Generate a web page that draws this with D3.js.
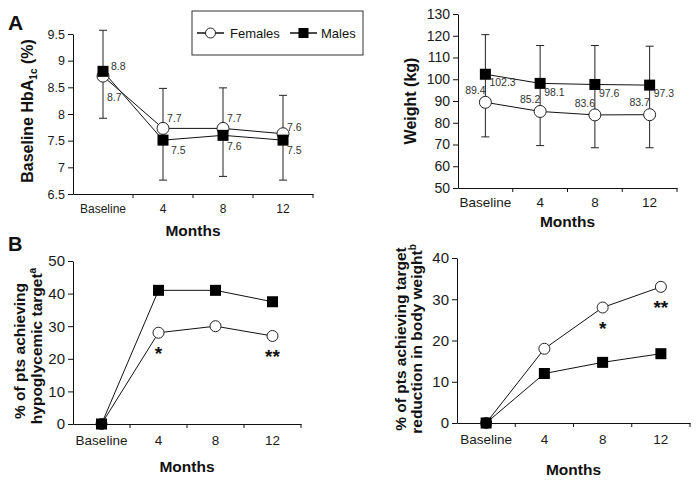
<!DOCTYPE html>
<html><head><meta charset="utf-8">
<script src="https://cdn.jsdelivr.net/npm/d3@7"></script>
<style>
body{margin:0;background:#fff;}
svg{display:block;font-family:"Liberation Sans",Arial,sans-serif;}
</style></head>
<body><svg id="c" width="699" height="483"></svg>
<script>
// ---- data ----
const months = ["Baseline", "4", "8", "12"];
const seriesNames = ["Females", "Males"];

const hba1cFemales = [8.71, 7.73, 7.73, 7.63];
const hba1cMales = [8.8, 7.51, 7.6, 7.51];
const hba1cFemaleLabels = ["8.7", "7.7", "7.7", "7.6"];
const hba1cMaleLabels = ["8.8", "7.5", "7.6", "7.5"];
const hba1cErrLow = [7.92, 6.76, 6.83, 6.76];
const hba1cErrHigh = [9.57, 8.48, 8.49, 8.35];
const hba1cTicks = [6.5, 7, 7.5, 8, 8.5, 9, 9.5];

const weightFemales = [89.4, 85.2, 83.6, 83.7];
const weightMales = [102.3, 98.1, 97.6, 97.3];
const weightErrLow = [73.5, 69.5, 68.5, 68.5];
const weightErrHigh = [120.5, 115.5, 115.5, 115.2];
const weightTicks = [50, 60, 70, 80, 90, 100, 110, 120, 130];

const hypoFemales = [0, 28, 30, 27];
const hypoMales = [0, 41, 41, 37.5];
const hypoStars = ["", "*", "", "**"];
const hypoTicks = [0, 10, 20, 30, 40, 50];

const wtRedFemales = [0, 18, 28, 33];
const wtRedMales = [0, 12, 14.7, 16.8];
const wtRedStars = ["", "", "*", "**"];
const wtRedTicks = [0, 10, 20, 30, 40];

// ---- drawing ----
const svg = d3.select("#c");
const FONT = '"Liberation Sans",Arial,sans-serif';

function panel(o) {
  const g = svg.append("g");
  const x = d3.scaleBand().domain(months).range([o.x0, o.x1]).padding(0);
  const y = d3.scaleLinear().domain(o.domain).range([o.y0, o.y1]);
  const cx = d => x(d) + x.bandwidth() / 2;

  // y axis
  const ya = g.append("g").attr("transform", `translate(${o.x0},0)`)
    .call(d3.axisLeft(y).tickValues(o.ticks).tickSize(5).tickSizeOuter(0).tickPadding(3)
      .tickFormat(d => String(d)));
  ya.selectAll("text").attr("font-size", o.ytFont).attr("fill", "#1a1a1a").attr("font-family", FONT);
  ya.selectAll("line,path").attr("stroke", "#111");

  // x axis (labels centered, ticks at category boundaries)
  const xa = g.append("g").attr("transform", `translate(0,${o.y0})`)
    .call(d3.axisBottom(x).tickSize(0).tickSizeOuter(0).tickPadding(o.xtPad));
  xa.selectAll("text").attr("font-size", o.xtFont).attr("fill", "#1a1a1a").attr("font-family", FONT);
  xa.select("path").attr("stroke", "#111");
  g.selectAll(".bt").data(months).enter().append("line")
    .attr("x1", d => x(d) + x.bandwidth()).attr("x2", d => x(d) + x.bandwidth())
    .attr("y1", o.y0).attr("y2", o.y0 + 4).attr("stroke", "#111");

  // titles
  g.append("text").attr("x", (o.x0 + o.x1) / 2).attr("y", o.mY)
    .attr("text-anchor", "middle").attr("font-weight", "bold").attr("font-size", 15.5)
    .attr("fill", "#111").text("Months");
  o.yTitle(g);

  // error bars
  if (o.errLow) {
    months.forEach((m, i) => {
      const xx = cx(m);
      g.append("line").attr("x1", xx).attr("x2", xx).attr("y1", y(o.errLow[i])).attr("y2", y(o.errHigh[i])).attr("stroke", "#222");
      [o.errLow[i], o.errHigh[i]].forEach(v => g.append("line").attr("x1", xx - 4).attr("x2", xx + 4)
        .attr("y1", y(v)).attr("y2", y(v)).attr("stroke", "#222"));
    });
  }

  const line = d3.line().x((d, i) => cx(months[i])).y(d => y(d));
  [o.fem, o.male].forEach(s => g.append("path").datum(s).attr("d", line)
    .attr("fill", "none").attr("stroke", "#111").attr("stroke-width", 1));

  const r = o.r, sq = o.sq;
  g.selectAll(".fc").data(o.fem).enter().append("circle")
    .attr("cx", (d, i) => cx(months[i])).attr("cy", d => y(d)).attr("r", r)
    .attr("fill", "#fff").attr("stroke", "#222").attr("stroke-width", 1);
  g.selectAll(".ms").data(o.male).enter().append("rect")
    .attr("x", (d, i) => cx(months[i]) - sq / 2).attr("y", d => y(d) - sq / 2)
    .attr("width", sq).attr("height", sq).attr("fill", "#000");

  if (o.labels) o.labels(g, x, y, cx);
  if (o.stars) {
    o.stars.forEach((s, i) => {
      if (!s) return;
      g.append("text").attr("x", cx(months[i])).attr("y", y(o.fem[i]) + 27)
        .attr("text-anchor", "middle").attr("font-weight", "bold").attr("font-size", 19)
        .attr("fill", "#111").text(s);
    });
  }
}

function rotTitle(g, xx, yy, parts, size) {
  const t = g.append("text").attr("transform", `translate(${xx},${yy}) rotate(-90)`)
    .attr("text-anchor", "middle").attr("font-weight", "bold").attr("font-size", size).attr("fill", "#111");
  parts.forEach(p => {
    const ts = t.append("tspan").text(p.t);
    if (p.fs) ts.attr("font-size", p.fs);
    if (p.dy) ts.attr("dy", p.dy);
  });
}

// Panel A left: HbA1c
panel({
  x0: 73, x1: 313, y0: 194, y1: 34, domain: [6.5, 9.5], ticks: hba1cTicks,
  ytFont: 12.5, xtFont: 12, xtPad: 10, mY: 236, r: 6, sq: 11,
  fem: hba1cFemales, male: hba1cMales, errLow: hba1cErrLow, errHigh: hba1cErrHigh,
  yTitle: g => rotTitle(g, 33, 111, [{t: "Baseline HbA"}, {t: "1c", fs: 10, dy: 4}, {t: " (%)", dy: -4}], 16),
  labels: (g, x, y, cx) => {
    const fdy = [21, -10, -10, -6], mdx = [8, 8, 4, 4], mdy = [-5, 10, 11, 10];
    months.forEach((m, i) => {
      g.append("text").attr("x", cx(m) + 4).attr("y", y(hba1cFemales[i]) + fdy[i]).attr("dy", "0.35em")
        .attr("font-size", 10.5).attr("fill", "#333").text(hba1cFemaleLabels[i]);
      g.append("text").attr("x", cx(m) + mdx[i]).attr("y", y(hba1cMales[i]) + mdy[i]).attr("dy", "0.35em")
        .attr("font-size", 10.5).attr("fill", "#333").text(hba1cMaleLabels[i]);
    });
  }
});

// Panel A right: weight
panel({
  x0: 458, x1: 677, y0: 188, y1: 14, domain: [50, 130], ticks: weightTicks,
  ytFont: 14, xtFont: 13.5, xtPad: 9, mY: 227, r: 6, sq: 11,
  fem: weightFemales, male: weightMales, errLow: weightErrLow, errHigh: weightErrHigh,
  yTitle: g => rotTitle(g, 416, 101, [{t: "Weight (kg)"}], 16),
  labels: (g, x, y, cx) => {
    months.forEach((m, i) => {
      g.append("text").attr("x", cx(m) - 10).attr("y", y(weightFemales[i]) - 12).attr("dy", "0.35em")
        .attr("text-anchor", "middle").attr("font-size", 10.5).attr("fill", "#333").text(weightFemales[i].toFixed(1));
      g.append("text").attr("x", cx(m) + 4).attr("y", y(weightMales[i]) + 8.5).attr("dy", "0.35em")
        .attr("font-size", 10.5).attr("fill", "#333").text(weightMales[i].toFixed(1));
    });
  }
});

// Panel B left: hypoglycemic target
panel({
  x0: 73, x1: 301, y0: 424, y1: 261, domain: [0, 50], ticks: hypoTicks,
  ytFont: 15, xtFont: 13.5, xtPad: 11, mY: 472, r: 5.5, sq: 11,
  fem: hypoFemales, male: hypoMales, stars: hypoStars,
  yTitle: g => {
    rotTitle(g, 25, 351, [{t: "% of pts achieving"}], 15.5);
    rotTitle(g, 42, 346, [{t: "hypoglycemic target"}, {t: "a", fs: 10, dy: -6}], 15.5);
  }
});

// Panel B right: weight reduction target
panel({
  x0: 457, x1: 690, y0: 423, y1: 258, domain: [0, 40], ticks: wtRedTicks,
  ytFont: 15, xtFont: 13.5, xtPad: 11, mY: 475, r: 5.5, sq: 11,
  fem: wtRedFemales, male: wtRedMales, stars: wtRedStars,
  yTitle: g => {
    rotTitle(g, 406, 339, [{t: "% of pts achieving target"}], 15.5);
    rotTitle(g, 422, 339, [{t: "reduction in body weight"}, {t: "b", fs: 10, dy: -6}], 15.5);
  }
});

// panel letters
svg.append("text").attr("x", 8).attr("y", 30).attr("font-weight", "bold").attr("font-size", 21).attr("fill", "#111").text("A");
svg.append("text").attr("x", 8).attr("y", 251).attr("font-weight", "bold").attr("font-size", 20).attr("fill", "#111").text("B");

// legend
const lg = svg.append("g");
lg.append("rect").attr("x", 192).attr("y", 11).attr("width", 171).attr("height", 44)
  .attr("fill", "#fff").attr("stroke", "#333").attr("stroke-width", 1);
const legItems = [{x: 197, tx: 230}, {x: 290, tx: 321}];
seriesNames.forEach((name, i) => {
  const it = legItems[i];
  lg.append("line").attr("x1", it.x).attr("x2", it.x + 27).attr("y1", 33).attr("y2", 33).attr("stroke", "#111").attr("stroke-width", 1.5);
  if (i === 0) lg.append("circle").attr("cx", it.x + 13.5).attr("cy", 33).attr("r", 5).attr("fill", "#fff").attr("stroke", "#222");
  else lg.append("rect").attr("x", it.x + 13.5 - 5).attr("y", 28).attr("width", 10).attr("height", 10).attr("fill", "#000");
  lg.append("text").attr("x", it.tx).attr("y", 33).attr("dy", "0.35em").attr("font-size", 13).attr("fill", "#111").text(name);
});
</script></body></html>
